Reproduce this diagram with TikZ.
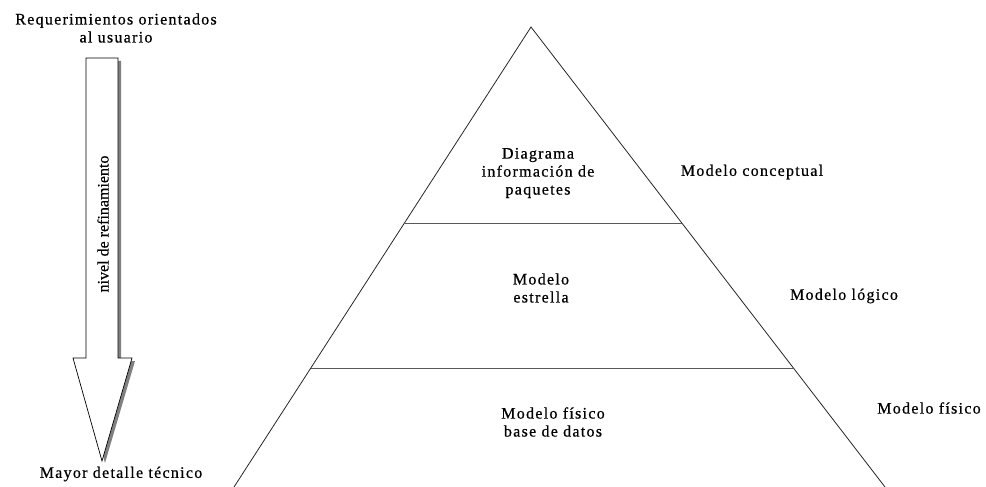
\documentclass[tikz,border=0pt]{standalone}
\usepackage{fontspec}
\setmainfont{Liberation Serif}
\newfontfamily\spaced[LetterSpace=8,FakeBold=0.6]{Liberation Serif}
\newfontfamily\plainrot[FakeBold=0.4]{Liberation Serif}
\begin{document}
\begin{tikzpicture}[x=1pt,y=-1pt,
  lbl/.style={font=\spaced\fontsize{16}{18}\selectfont, align=center, inner sep=0pt},
  side/.style={draw=black!85, line width=0.8pt},
  level/.style={draw=black!65, line width=0.9pt}]
\useasboundingbox (0,0) rectangle (986,487);
% pyramid
\coordinate (apex) at (531,27);
\coordinate (bl) at (234,487);
\coordinate (br) at (885,487);
\coordinate (l1) at (405,223);
\coordinate (r1) at (682,223);
\coordinate (l2) at (311,368);
\coordinate (r2) at (793,368);
\draw[side] (bl) -- (apex) -- (br);
\draw[level] (l1) -- (r1);
\draw[level] (l2) -- (r2);
% arrow shadow + arrow
\fill[black!50] (89,61) -- (121,61) -- (121,361) -- (135,361) -- (105,463) -- (76,361) -- (89,361) -- cycle;
\draw[fill=white, line width=0.7pt] (86,58) -- (118,58) -- (118,358) -- (132,358) -- (102,461) -- (73,358) -- (86,358) -- cycle;
\node[font=\plainrot\fontsize{16}{18}\selectfont, rotate=90, inner sep=0pt] (ref) at (103,224) {nivel de refinamiento};
% texts
\node[lbl] (req) at (116,28) {Requerimientos orientados\\al usuario};
\node[lbl] (may) at (121,474) {Mayor detalle técnico};
\node[lbl] (dia) at (538,173) {Diagrama\\información de\\paquetes};
\node[lbl] (est) at (541,288) {Modelo\\estrella};
\node[lbl] (bd) at (553,422) {Modelo físico\\base de datos};
\node[lbl] (mc) at (752,172) {Modelo conceptual};
\node[lbl] (ml) at (844,296) {Modelo lógico};
\node[lbl] (mf) at (929,408) {Modelo físico};
\end{tikzpicture}
\end{document}
